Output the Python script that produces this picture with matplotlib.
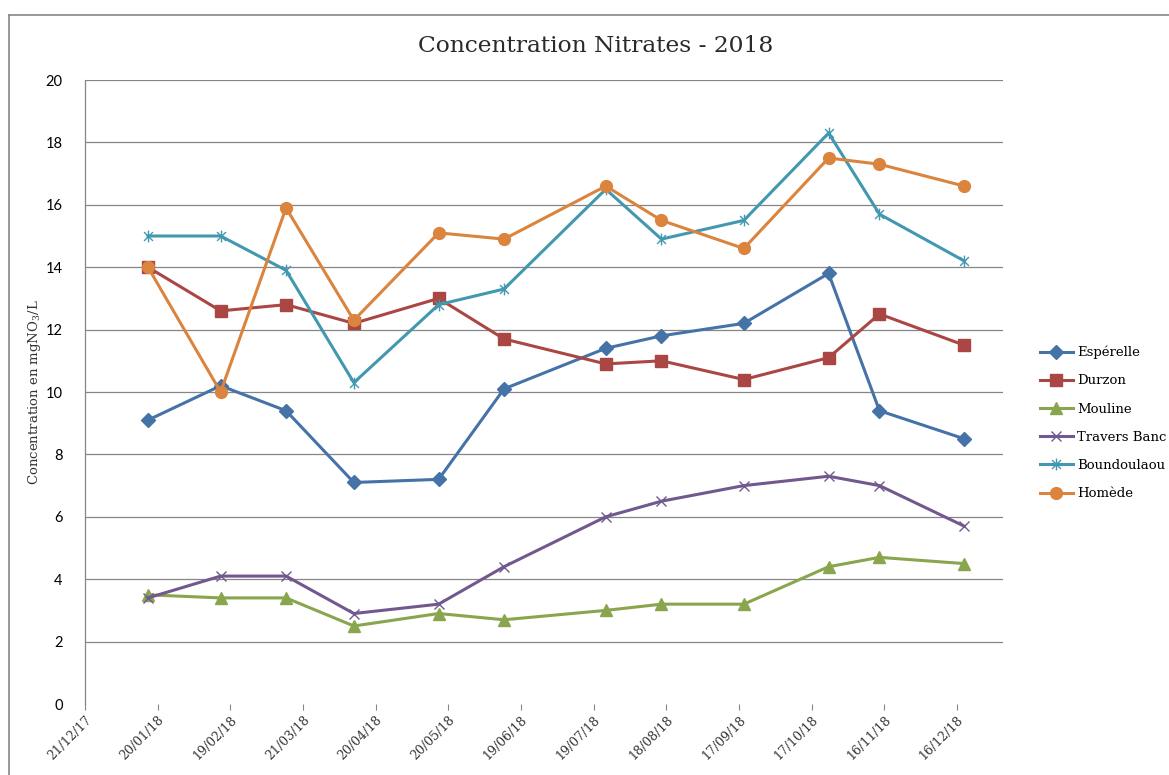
import matplotlib
matplotlib.use("Agg")
import matplotlib.pyplot as plt
import matplotlib.dates as mdates
from matplotlib.path import Path
from matplotlib.lines import Line2D
import datetime as dt

# ---- data ----
dates = ["2018-01-16", "2018-02-15", "2018-03-14", "2018-04-11", "2018-05-16", "2018-06-12",
         "2018-07-24", "2018-08-16", "2018-09-19", "2018-10-24", "2018-11-14", "2018-12-19"]
esperelle = [9.1, 10.2, 9.4, 7.1, 7.2, 10.1, 11.4, 11.8, 12.2, 13.8, 9.4, 8.5]
durzon = [14.0, 12.6, 12.8, 12.2, 13.0, 11.7, 10.9, 11.0, 10.4, 11.1, 12.5, 11.5]
mouline = [3.5, 3.4, 3.4, 2.5, 2.9, 2.7, 3.0, 3.2, 3.2, 4.4, 4.7, 4.5]
travers_banc = [3.4, 4.1, 4.1, 2.9, 3.2, 4.4, 6.0, 6.5, 7.0, 7.3, 7.0, 5.7]
boundoulaou = [15.0, 15.0, 13.9, 10.3, 12.8, 13.3, 16.5, 14.9, 15.5, 18.3, 15.7, 14.2]
homede = [14.0, 10.0, 15.9, 12.3, 15.1, 14.9, 16.6, 15.5, 14.6, 17.5, 17.3, 16.6]
series_names = ["Espérelle", "Durzon", "Mouline", "Travers Banc", "Boundoulaou", "Homède"]
title = "Concentration Nitrates - 2018"
ylabel = "Concentration en mgNO$_3$/L"
axis_start = "2017-12-21"
axis_end = "2019-01-04"
tick_step_days = 30
n_ticks = 13
y_ticks = list(range(0, 21, 2))

x = [dt.datetime.strptime(d, "%Y-%m-%d") for d in dates]
x0 = dt.datetime.strptime(axis_start, "%Y-%m-%d")
x1 = dt.datetime.strptime(axis_end, "%Y-%m-%d")
xticks = [x0 + dt.timedelta(days=tick_step_days * i) for i in range(n_ticks)]

plt.rcParams["mathtext.fontset"] = "dejavuserif"

W, H = 1169, 775
fig = plt.figure(figsize=(W / 100, H / 100), dpi=100)
ax = fig.add_axes([85 / W, 1 - 704 / H, (1003 - 85) / W, (704 - 80) / H])

star = Path([(0, -1), (0, 1), (-0.75, -0.75), (0.75, 0.75), (-0.75, 0.75), (0.75, -0.75)],
            [Path.MOVETO, Path.LINETO] * 3)

styles = [
    dict(color="#4572A7", marker="D", ms=7),
    dict(color="#AA4643", marker="s", ms=8.5),
    dict(color="#89A54E", marker="^", ms=9),
    dict(color="#71588F", marker="x", ms=7.5, mew=1.0),
    dict(color="#4198AF", marker=star, ms=8.5, mew=1.0),
    dict(color="#DB843D", marker="o", ms=8.5),
]
data = [esperelle, durzon, mouline, travers_banc, boundoulaou, homede]
for name, vals, st in zip(series_names, data, styles):
    ax.plot(x, vals, lw=2.2, label=name, zorder=3, **st)

ax.set_xlim(x0, x1)
ax.set_ylim(0, 20)
ax.set_yticks(y_ticks)
ax.set_xticks(xticks)
ax.xaxis.set_major_formatter(mdates.DateFormatter("%d/%m/%y"))
for lab in ax.get_xticklabels():
    lab.set_rotation(45)
    lab.set_ha("right")
    lab.set_rotation_mode("anchor")
    lab.set_fontfamily("DejaVu Serif")
    lab.set_fontsize(9)
    lab.set_color("#333333")
for lab in ax.get_yticklabels():
    lab.set_fontfamily("Lato")
    lab.set_fontsize(10.5)

ax.tick_params(axis="x", length=4, color="#868686", pad=3)
ax.tick_params(axis="y", length=0, pad=16)
for y in y_ticks[1:]:
    ax.axhline(y, color="#868686", lw=0.9, zorder=1)
for s in ["top", "right", "bottom"]:
    ax.spines[s].set_visible(False)
ax.spines["left"].set_color("#868686")
ax.spines["left"].set_linewidth(0.9)

ax.set_ylabel(ylabel, fontfamily="DejaVu Serif", fontsize=9.5, color="#333333", labelpad=2)

fig.text(596 / W, 1 - 46 / H, title, ha="center", va="center",
         fontfamily="DejaVu Serif", fontsize=16.8, color="#2a2a2a")

leg = fig.legend(loc="center left", bbox_to_anchor=(1040 / W, 1 - 423 / H),
                 frameon=False, prop={"family": "DejaVu Serif", "size": 9.5},
                 handlelength=2.5, handletextpad=0.3, labelspacing=1.15,
                 borderpad=0, borderaxespad=0)

# outer chart border
fig.add_artist(Line2D([9 / W, 9 / W], [0, 1 - 15 / H], transform=fig.transFigure,
                      color="#868686", lw=1.2))
fig.add_artist(Line2D([9 / W, 1], [1 - 15 / H, 1 - 15 / H], transform=fig.transFigure,
                      color="#868686", lw=1.2))

fig.savefig("out.png", dpi=100)
